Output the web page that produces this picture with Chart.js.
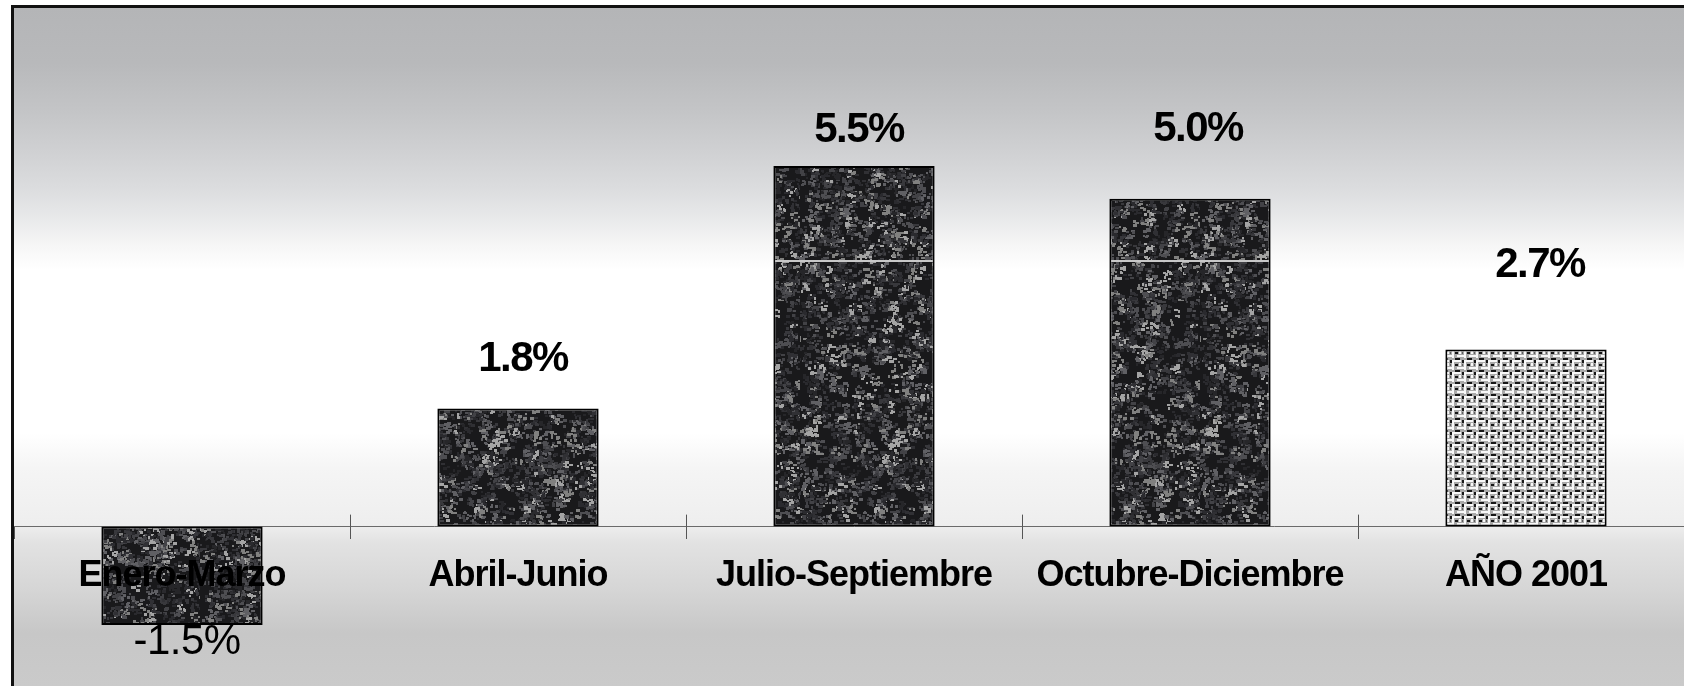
<!DOCTYPE html>
<html>
<head>
<meta charset="utf-8">
<script src="https://cdn.jsdelivr.net/npm/chart.js@4.4.0/dist/chart.umd.min.js"></script>
<style>
  html, body { margin: 0; padding: 0; background: #fff; overflow: hidden; }
  #frame {
    position: absolute; left: 11px; top: 5px; width: 1720px; height: 720px;
    border-left: 3px solid #111; border-top: 3px solid #111;
    background: linear-gradient(to bottom,
      #b4b5b7 0px, #b8b9bb 55px, #c4c5c7 105px, #d0d1d3 145px, #dcdddf 182px,
      #e9eaeb 212px, #f6f6f6 238px, #ffffff 262px, #ffffff 425px, #f5f5f5 460px,
      #eeeeee 517px, #e2e2e2 535px, #d6d6d6 580px, #c7c7c7 625px, #cacaca 678px);
  }
  #wrap { position: absolute; left: 0; top: 0; width: 1700px; height: 686px; }
</style>
</head>
<body>
<div id="frame"></div>
<div id="wrap"><canvas id="chart"></canvas></div>
<script>
// Quarterly growth, 2001
const categories = ['Enero-Marzo', 'Abril-Junio', 'Julio-Septiembre', 'Octubre-Diciembre', 'AÑO 2001'];
const growth = [-1.5, 1.8, 5.5, 5.0, 2.7];

// where each value label sits relative to the bar end (px)
const labelDx = [5, 5, 5, 8, 14];
const labelDy = [17, -49, -36, -69, -84];

const canvas = document.getElementById('chart');
const mainCtx = canvas.getContext('2d');

// fixed-seed generator, only used for the bar texture
let seed = 424242;
function rnd() {
    seed = (seed * 16807) % 2147483647;
    return seed / 2147483647;
}

// dark granite fill of the quarter bars
function granite() {
    const c = document.createElement('canvas');
    c.width = 200; c.height = 400;
    const g = c.getContext('2d');
    g.fillStyle = '#19191b';
    g.fillRect(0, 0, 200, 400);
    const tones = ['#262629', '#2a2a2e', '#303034', '#38383c', '#424246', '#4e4e52', '#606064', '#80807f', '#a4a4a4'];
    for (let i = 0; i < 2100; i++) {
        const cx = rnd() * 200;
        const cy = rnd() * 400;
        g.fillStyle = tones[Math.floor(rnd() * tones.length)];
        const n = 2 + Math.floor(rnd() * 6);
        for (let k = 0; k < n; k++) {
            const x = Math.floor(cx + (rnd() - 0.5) * 8);
            const y = Math.floor(cy + (rnd() - 0.5) * 8);
            g.fillRect(x, y, 2 + Math.floor(rnd() * 3), 2 + Math.floor(rnd() * 2));
        }
    }
    g.fillStyle = '#c8c8c8';
    g.fillRect(0, 0, 200, 2);
    const p = mainCtx.createPattern(c, 'repeat');
    p.setTransform(new DOMMatrix().translate(0, 260));
    return p;
}

// light woven fill of the yearly bar
function weave() {
    const c = document.createElement('canvas');
    c.width = 12; c.height = 12;
    const g = c.getContext('2d');
    g.fillStyle = '#a9a9a9';
    g.fillRect(0, 0, 12, 12);
    g.fillStyle = '#f8f8f8';
    g.fillRect(0, 0, 9, 2);
    g.fillRect(0, 2, 2, 8);
    g.fillRect(5, 7, 7, 2);
    g.fillRect(7, 3, 2, 3);
    g.fillStyle = '#161616';
    g.fillRect(3, 4, 3, 2);
    g.fillRect(10, 0, 2, 3);
    g.fillRect(3, 10, 5, 2);
    g.fillStyle = '#5e5e5e';
    g.fillRect(10, 4, 1, 2);
    return mainCtx.createPattern(c, 'repeat');
}

const darkFill = granite();
const yearFill = weave();

const textSpacing = {
    id: 'textSpacing',
    beforeDraw(chart) {
        chart.ctx.letterSpacing = '-1px';
    }
};

// category separators cross the zero line
const tickMarks = {
    id: 'tickMarks',
    afterDraw(chart) {
        const x = chart.scales.x;
        const y0 = chart.scales.y.getPixelForValue(0);
        const ctx = chart.ctx;
        ctx.save();
        ctx.strokeStyle = '#555';
        ctx.lineWidth = 1;
        for (let i = 1; i < categories.length; i++) {
            const px = Math.round((x.getPixelForValue(i - 1) + x.getPixelForValue(i)) / 2) + 0.5;
            ctx.beginPath();
            ctx.moveTo(px, y0 - 12);
            ctx.lineTo(px, y0);
            ctx.stroke();
        }
        ctx.restore();
    }
};

const valueLabels = {
    id: 'valueLabels',
    afterDatasetsDraw(chart) {
        const ctx = chart.ctx;
        const meta = chart.getDatasetMeta(0);
        ctx.save();
        ctx.fillStyle = '#000';
        ctx.textAlign = 'center';
        ctx.textBaseline = 'middle';
        meta.data.forEach((bar, i) => {
            const v = growth[i];
            if (v < 0) {
                ctx.font = '42px "Liberation Sans", Arial, sans-serif';
                ctx.letterSpacing = '-0.5px';
            } else {
                ctx.font = 'bold 42px "Liberation Sans", Arial, sans-serif';
                ctx.letterSpacing = '-1.5px';
            }
            ctx.fillText(v.toFixed(1) + '%', bar.x + labelDx[i], bar.y + labelDy[i]);
        });
        ctx.restore();
    }
};

new Chart(canvas, {
    type: 'bar',
    data: {
        labels: categories,
        datasets: [{
            data: growth,
            backgroundColor: [darkFill, darkFill, darkFill, darkFill, yearFill],
            borderColor: '#000',
            borderWidth: 2,
            borderSkipped: false,
            barPercentage: 0.48,
            categoryPercentage: 1
        }]
    },
    options: {
        responsive: true,
        maintainAspectRatio: false,
        animation: false,
        layout: { padding: { left: 14, right: 6, top: 2, bottom: 2 } },
        plugins: {
            legend: { display: false },
            tooltip: { enabled: false }
        },
        scales: {
            x: {
                position: { y: 0 },
                afterFit: (scale) => { scale.height = 0; },
                grid: {
                    offset: true,
                    drawOnChartArea: false,
                    tickLength: 12,
                    color: '#555'
                },
                border: { display: true, color: '#6a6a6a', width: 1 },
                ticks: {
                    z: 1,
                    padding: 16,
                    color: '#000',
                    maxRotation: 0,
                    autoSkip: false,
                    font: { family: '"Liberation Sans", Arial, sans-serif', size: 36, weight: 'bold' }
                }
            },
            y: {
                display: false,
                min: -2.4,
                max: 8
            }
        }
    },
    plugins: [textSpacing, tickMarks, valueLabels]
});
</script>
</body>
</html>
